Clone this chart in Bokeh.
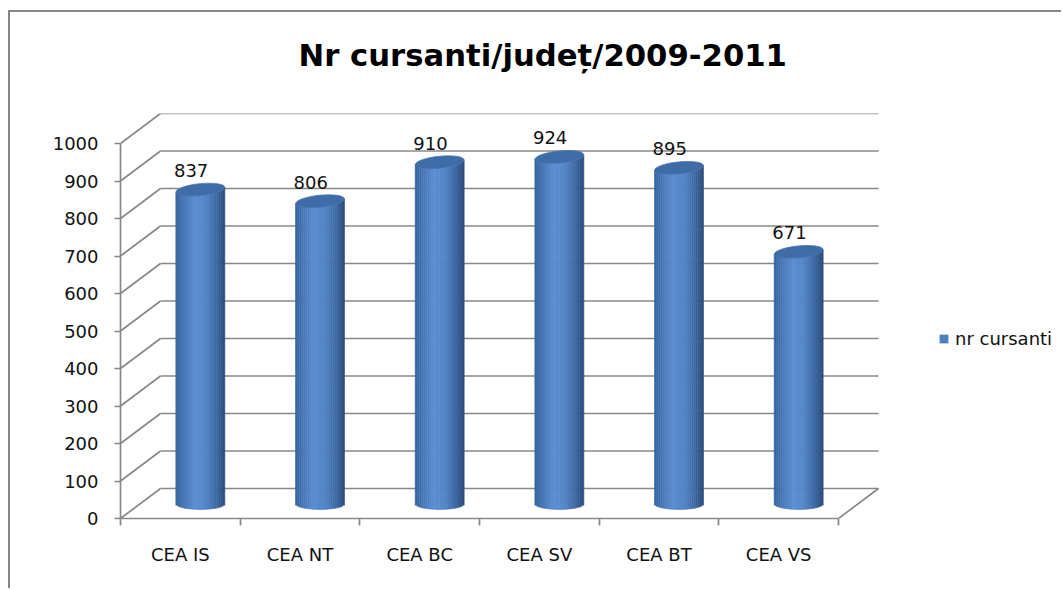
import math
from bokeh.plotting import figure
from bokeh.models import LinearAxis, FixedTicker, Legend, LegendItem, Range1d, Title
from bokeh.core.properties import value
from bokeh.embed import file_html
from bokeh.resources import INLINE

# ---------------- data ----------------
categories = ["CEA IS", "CEA NT", "CEA BC", "CEA SV", "CEA BT", "CEA VS"]
nr_cursanti = [837, 806, 910, 924, 895, 671]
y_ticks = [0, 100, 200, 300, 400, 500, 600, 700, 800, 900, 1000]
series_name = "nr cursanti"
chart_title = "Nr cursanti/județ/2009-2011"

# ---------------- style / geometry ----------------
FONT = "DejaVu Sans"
GRID = "#888888"
TXT = "#111111"
PX_X = 119.67          # screen px per category
PX_Y = 0.375           # screen px per value unit
FRAME_W, FRAME_H = 940, 405
DX = 40 / PX_X         # depth offset of the back wall (data units)
DY = 30 / PX_Y
N = len(categories)
X0 = 0.5               # left edge of the first category
YMAX = 1000

p = figure(frame_width=FRAME_W, frame_height=FRAME_H,
           x_range=Range1d(X0, X0 + FRAME_W / PX_X),
           y_range=Range1d(0, FRAME_H / PX_Y),
           x_axis_type=None, y_axis_type=None,
           output_backend="svg", toolbar_location=None,
           min_border_left=110, min_border_top=101,
           min_border_right=1, min_border_bottom=70)
p.outline_line_color = None
p.background_fill_color = "white"
p.border_fill_color = "white"
p.styles = {"margin-left": "8px", "margin-top": "10px",
            "border-left": "2px solid #868686", "border-top": "2px solid #868686"}

# ---------------- 3-D walls ----------------
xl, xr = X0, X0 + N
p.segment(x0=[xl + DX] * len(y_ticks), y0=[t + DY for t in y_ticks],
          x1=[xr + DX] * len(y_ticks), y1=[t + DY for t in y_ticks],
          line_color=GRID, line_width=1.7)
p.segment(x0=[xl] * len(y_ticks), y0=y_ticks,
          x1=[xl + DX] * len(y_ticks), y1=[t + DY for t in y_ticks],
          line_color=GRID, line_width=1.7)
p.segment(x0=[xr], y0=[0], x1=[xr + DX], y1=[DY], line_color=GRID, line_width=1.7)

# ---------------- cylinders ----------------
W = 49 / PX_X                  # cylinder width (data)
EH = 12 / PX_Y                 # ellipse height (data)
TILT = 0.10                    # radians
NS = 24
stops = [(0.0, (0x36, 0x61, 0x9b)), (0.15, (0x47, 0x76, 0xb6)), (0.40, (0x5b, 0x8d, 0xd2)),
         (0.62, (0x52, 0x83, 0xc5)), (0.85, (0x3c, 0x67, 0xa0)), (1.0, (0x2b, 0x4b, 0x78))]


def shade(t):
    for (t0, c0), (t1, c1) in zip(stops[:-1], stops[1:]):
        if t0 <= t <= t1:
            f = (t - t0) / (t1 - t0)
            return "#%02x%02x%02x" % tuple(int(round(a + (b - a) * f)) for a, b in zip(c0, c1))
    return "#%02x%02x%02x" % stops[-1][1]


sl, sr, sb, st, sc = [], [], [], [], []
ex, ey = [], []
for i, v in enumerate(nr_cursanti):
    cx = X0 + i + 0.5 + DX / 2
    base = DY / 2
    for k in range(NS):
        a = cx - W / 2 + k * W / NS
        b = a + W / NS
        m = (a + b) / 2
        u = 2 * (m - cx) / W
        bottom = base - EH / 2 * math.sqrt(max(0.0, 1 - u * u))
        top = v + base + (m - cx) * PX_X * math.tan(TILT) / PX_Y
        sl.append(a); sr.append(b); sb.append(bottom); st.append(top)
        sc.append(shade((k + 0.5) / NS))
    ex.append(cx); ey.append(v + base)

p.quad(left=sl, right=sr, bottom=sb, top=st, fill_color=sc, line_color=sc, line_width=0.6)
p.ellipse(x=ex, y=ey, width=W, height=EH, angle=TILT, fill_color="#3f6ba6",
          line_color="#4a78b4", line_width=0.8)

# value labels
p.text(x=[X0 + i + 0.5 + 0.09 for i in range(N)],
       y=[v + DY / 2 + 51 for v in nr_cursanti],
       text=[str(v) for v in nr_cursanti],
       text_align="center", text_baseline="alphabetic",
       text_font=value(FONT), text_font_size="18px", text_color=TXT)

# ---------------- axes ----------------
yaxis = LinearAxis(ticker=FixedTicker(ticks=y_ticks), bounds=(0, YMAX),
                   axis_line_color=GRID, axis_line_width=1.7,
                   major_tick_line_color=GRID, major_tick_line_width=1.7,
                   major_tick_out=6, major_tick_in=0,
                   minor_tick_line_color=None, major_label_standoff=16,
                   major_label_text_font=FONT, major_label_text_font_size="18px",
                   major_label_text_color=TXT)
p.add_layout(yaxis, "left")

centers = [i + 1 for i in range(N)]
xaxis = LinearAxis(ticker=FixedTicker(ticks=centers, minor_ticks=[X0 + i for i in range(N + 1)]),
                   bounds=(X0, X0 + N),
                   axis_line_color=GRID, axis_line_width=1.7,
                   major_tick_line_color=None, major_tick_out=0, major_tick_in=0,
                   minor_tick_line_color=GRID, minor_tick_line_width=1.7,
                   minor_tick_out=7, minor_tick_in=0,
                   major_label_overrides={c: lab for c, lab in zip(centers, categories)},
                   major_label_standoff=18,
                   major_label_text_font=FONT, major_label_text_font_size="18px",
                   major_label_text_color=TXT)
p.add_layout(xaxis, "below")

# ---------------- legend ----------------
swatch = p.quad(left=[X0], right=[X0], bottom=[0], top=[0],
                fill_color="#4f81bd", line_color=None)
legend = Legend(items=[LegendItem(label=series_name, renderers=[swatch])],
                location=(818, 169), padding=0, margin=0, spacing=0,
                glyph_width=11, glyph_height=11, label_standoff=6,
                border_line_color=None, background_fill_alpha=0,
                label_text_font=FONT, label_text_font_size="18px", label_text_color=TXT)
p.add_layout(legend, "center")

# ---------------- title ----------------
p.add_layout(Title(text=" ", text_font_size="1px", standoff=38), "above")
p.title.text = chart_title
p.title.align = "left"
p.title.offset = 178
p.title.standoff = 0
p.title.text_font = FONT
p.title.text_font_size = "30.7px"
p.title.text_font_style = "bold"
p.title.text_color = "#000000"

open("out.html", "w").write(file_html(p, INLINE))
